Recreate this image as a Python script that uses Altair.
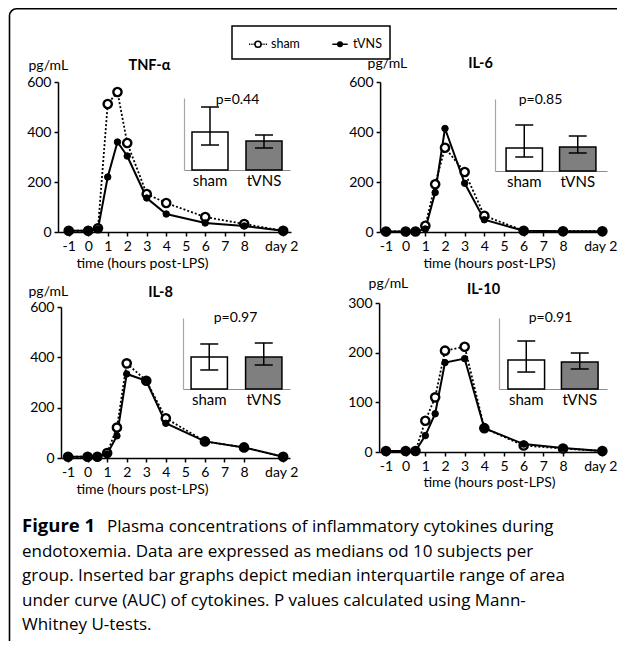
import altair as alt
import pandas as pd

# ---------------- data ----------------
hours = [-1, 0, 0.5, 1, 1.5, 2, 3, 4, 6, 8, 10]          # 10 = "day 2"
hour_ticks = [-1, 0, 1, 2, 3, 4, 5, 6, 7, 8, 10]
groups = ["sham", "tVNS"]

panel_names = ["TNF-α", "IL-6", "IL-8", "IL-10"]
y_max = [600, 600, 600, 300]
y_ticks = [[0, 200, 400, 600], [0, 200, 400, 600], [0, 200, 400, 600], [0, 100, 200, 300]]

tnf_sham = [5, 5, 15, 512, 560, 356, 152, 116, 60, 32, 5]
tnf_tvns = [5, 5, 12, 220, 360, 304, 136, 72, 36, 24, 5]
il6_sham = [2, 2, 2, 25, 191, 337, 240, 65, 5, 3, 3]
il6_tvns = [2, 2, 2, 12, 158, 414, 195, 49, 5, 3, 3]
il8_sham = [5, 5, 5, 20, 121, 376, 307, 158, 66, 42, 5]
il8_tvns = [5, 5, 5, 16, 88, 334, 307, 138, 66, 42, 5]
il10_sham = [2, 2, 2, 63, 110, 204, 212, 48, 13, 7, 2]
il10_tvns = [2, 2, 2, 33, 77, 180, 188, 48, 16, 8, 2]

sham_series = [tnf_sham, il6_sham, il8_sham, il10_sham]
tvns_series = [tnf_tvns, il6_tvns, il8_tvns, il10_tvns]

p_values = ["p=0.44", "p=0.85", "p=0.97", "p=0.91"]
auc_median_sham = [52.8, 31.9, 45.0, 40.8]
auc_q1_sham = [34.7, 19.4, 26.8, 23.9]
auc_q3_sham = [87.5, 63.9, 63.4, 67.6]
auc_median_tvns = [40.3, 33.3, 45.0, 38.0]
auc_q1_tvns = [30.6, 25.0, 33.8, 28.2]
auc_q3_tvns = [48.6, 48.6, 64.8, 50.7]

caption_bold = "Figure 1"
caption_first = "Plasma concentrations of inflammatory cytokines during"
caption_rest = [
    "endotoxemia. Data are expressed as medians od 10 subjects per",
    "group. Inserted bar graphs depict median interquartile range of area",
    "under curve (AUC) of cytokines. P values calculated using Mann-",
    "Whitney U-tests.",
]

# ---------------- layout (pixels inside the plot area) ----------------
W, H = 609, 633
FONT = "Lato"
CAP_FONT = "Open Sans"

layouts = [
    dict(xdom=[-1.55, 10.4], xrng=[50, 283], yrng=[224, 74], xaxis_y=224, yaxis_x=50,
         ylab=(-30, 57), name=(141, 57), xt=(134, 31),
         in_x=[176, 282], pi=0.333, po=0.148, in_y=[162, 90], p=(53, 91)),
    dict(xdom=[-1.3, 10.15], xrng=[372.1, 597.3], yrng=[224, 74], xaxis_y=224, yaxis_x=372.1,
         ylab=(-13, 55), name=(472, 55), xt=(481, 31),
         in_x=[487, 599], pi=0.32, po=0.207, in_y=[163, 91], p=(45, 91)),
    dict(xdom=[-1.36, 10.35], xrng=[53, 282], yrng=[450, 299], xaxis_y=450, yaxis_x=53,
         ylab=(-33, 283), name=(152, 284), xt=(134, 31),
         in_x=[175, 282], pi=0.333, po=0.148, in_y=[381, 310], p=(52, 309)),
    dict(xdom=[-1.35, 10.15], xrng=[371.1, 597.3], yrng=[444, 295], xaxis_y=444, yaxis_x=371.1,
         ylab=(-11, 275), name=(475, 281), xt=(481, 30),
         in_x=[491, 599], pi=0.315, po=0.167, in_y=[381, 310], p=(51, 309)),
]


def main_axis(**kw):
    d = dict(domainColor="black", domainWidth=1.5, tickColor="black", tickWidth=1.5, tickSize=4,
             labelFont=FONT, labelFontSize=14, labelColor="black", grid=False, labelPadding=3,
             labelFlush=False, labelOverlap=False, titleFont=FONT, titleFontSize=14,
             titleFontWeight="normal", titleColor="black")
    d.update(kw)
    return alt.Axis(**d)


children = []

for i in range(4):
    L = layouts[i]
    df = pd.DataFrame({
        "hour": hours + hours,
        "value": sham_series[i] + tvns_series[i],
        "group": ["sham"] * len(hours) + ["tVNS"] * len(hours),
    })
    xs = alt.Scale(domain=L["xdom"], range=L["xrng"], nice=False, zero=False)
    ys = alt.Scale(domain=[0, y_max[i]], range=L["yrng"], nice=False, zero=False)
    base = alt.Chart(df)

    xaxis = main_axis(orient="bottom", offset=L["xaxis_y"] - H, values=hour_ticks,
                      labelExpr="datum.value == 10 ? 'day 2' : '' + datum.value",
                      labelOffset=alt.condition("datum.value == 10", alt.value(-2), alt.value(0)),
                      title="time (hours post-LPS)", titleX=L["xt"][0], titleY=L["xt"][1],
                      titleAlign="center", titleBaseline="middle")
    yaxis = main_axis(orient="left", offset=-L["yaxis_x"], values=y_ticks[i], title="pg/mL",
                      titleAngle=0, titleAlign="left", titleBaseline="middle",
                      titleX=L["ylab"][0], titleY=L["ylab"][1])
    name_axis = alt.Axis(orient="top", domain=False, ticks=False, labels=False, grid=False,
                         title=panel_names[i], titleFont=FONT, titleFontSize=14.5,
                         titleFontWeight="bold", titleColor="black", titleAlign="center",
                         titleBaseline="middle", titleX=L["name"][0], titleY=L["name"][1])

    sham_line = base.transform_filter("datum.group == 'sham'").mark_line(
        color="black", strokeWidth=1.8, strokeDash=[2, 2]).encode(
        x=alt.X("hour:Q", scale=xs, axis=xaxis),
        y=alt.Y("value:Q", scale=ys, axis=yaxis))
    tvns_line = base.transform_filter("datum.group == 'tVNS'").mark_line(
        color="black", strokeWidth=2).encode(
        x=alt.X("hour:Q", scale=xs, axis=name_axis),
        y=alt.Y("value:Q", scale=ys, axis=None))
    sham_pts = base.transform_filter("datum.group == 'sham'").mark_point(
        shape="circle", filled=True, fill="white", stroke="black", strokeWidth=2.4, size=68,
        opacity=1).encode(
        x=alt.X("hour:Q", scale=xs, axis=None),
        y=alt.Y("value:Q", scale=ys, axis=None))
    tvns_pts = base.transform_filter("datum.group == 'tVNS'").mark_point(
        shape="circle", filled=True, fill="black", stroke="black", strokeWidth=1, size=42,
        opacity=1).encode(
        x=alt.X("hour:Q", scale=xs, axis=None),
        y=alt.Y("value:Q", scale=ys, axis=None))

    # ---- inset AUC bar chart ----
    auc = pd.DataFrame({
        "group": groups,
        "median": [auc_median_sham[i], auc_median_tvns[i]],
        "q1": [auc_q1_sham[i], auc_q1_tvns[i]],
        "q3": [auc_q3_sham[i], auc_q3_tvns[i]],
    })
    xs_in = alt.Scale(domain=groups, range=L["in_x"], paddingInner=L["pi"], paddingOuter=L["po"])
    ys_in = alt.Scale(domain=[0, 100], range=L["in_y"], nice=False, zero=True)
    bars = alt.Chart(auc).mark_bar(stroke="black", strokeWidth=1.5, opacity=1).encode(
        x=alt.X("group:N", scale=xs_in, sort=groups,
                axis=alt.Axis(orient="bottom", offset=L["in_y"][0] - H, ticks=False,
                              domainColor="#8c8c8c", domainWidth=1.2, labelAngle=0,
                              labelFont=FONT, labelFontSize=15, labelColor="black",
                              labelPadding=3, title=None, grid=False)),
        y=alt.Y("median:Q", scale=ys_in,
                axis=alt.Axis(orient="left", offset=-L["in_x"][0], labels=False, ticks=False,
                              grid=False, domainColor="#a6a6a6", domainWidth=1.2,
                              title=p_values[i], titleAngle=0, titleFont=FONT, titleFontSize=14,
                              titleFontWeight="normal", titleColor="black", titleAlign="center",
                              titleBaseline="middle", titleX=L["p"][0], titleY=L["p"][1])),
        fill=alt.Fill("group:N", scale=alt.Scale(domain=groups, range=["white", "#7f7f7f"]),
                      legend=None))
    err = alt.Chart(auc).mark_rule(color="black", strokeWidth=1.5).encode(
        x=alt.X("group:N", scale=xs_in, sort=groups, axis=None),
        y=alt.Y("q1:Q", scale=ys_in, axis=None),
        y2="q3:Q")
    caps = alt.Chart(auc).transform_fold(["q1", "q3"], as_=["which", "val"]).mark_tick(
        color="black", thickness=1.5, size=18, opacity=1, orient="horizontal").encode(
        x=alt.X("group:N", scale=xs_in, sort=groups, axis=None),
        y=alt.Y("val:Q", scale=ys_in, axis=None))

    children += [sham_line, tvns_line, sham_pts, tvns_pts, bars, err, caps]

# ---------------- legend ----------------
sham_symbol = ("M-1,0h0.14M-0.74,0h0.14M-0.5,0h0.1"
               "M-0.34,0a0.34,0.34 0 1,0 0.68,0a0.34,0.34 0 1,0 -0.68,0"
               "M0.4,0h0.1M0.6,0h0.14M0.86,0h0.14")
tvns_symbol = ("M-0.85,0H0.85"
               "M-0.25,0a0.25,0.25 0 1,0 0.5,0a0.25,0.25 0 1,0 -0.5,0")
legend_spec = alt.Legend(
    title=None, orient="none", legendX=224, legendY=18, direction="horizontal",
    strokeColor="black", padding=8, symbolSize=324, symbolStrokeWidth=1.6,
    symbolStrokeColor="black", labelFont=FONT, labelFontSize=12.5, labelColor="black",
    labelOffset=3, columnPadding=22, symbolOffset=8,
    labelExpr="datum.label == 'tVNS' ? 'tVNS\u00a0\u00a0\u00a0\u00a0\u00a0\u00a0\u00a0\u00a0\u00a0\u00a0' : datum.label")
legend_layer = alt.Chart(pd.DataFrame({"group": groups})).mark_point(
    strokeWidth=1.6, size=324, opacity=1).encode(
    x=alt.value(-200), y=alt.value(-200),
    fill=alt.Fill("group:N", scale=alt.Scale(domain=groups, range=["white", "black"]),
                  legend=legend_spec),
    stroke=alt.Stroke("group:N", scale=alt.Scale(domain=groups, range=["black", "black"]),
                      legend=legend_spec),
    shape=alt.Shape("group:N", scale=alt.Scale(domain=groups, range=[sham_symbol, tvns_symbol]),
                    legend=legend_spec))
children.append(legend_layer)

# ---------------- frame ----------------
frame = alt.Chart(pd.DataFrame({"k": [0]})).mark_rect(
    fill="transparent", stroke="black", strokeWidth=1.6, cornerRadius=7, clip=True).encode(
    x=alt.value(1.5), x2=alt.value(W + 60), y=alt.value(0.8), y2=alt.value(H + 60))
children.append(frame)

# ---------------- caption ----------------
cap_scale = alt.Scale(domain=[0, 4], range=[524, 622], nice=False, zero=False)
CAP_L = 14


def cap_text(lines, texts, x, weight="normal", size=17):
    return alt.Chart(pd.DataFrame({"line": lines, "text": texts})).mark_text(
        font=CAP_FONT, fontSize=size, fontWeight=weight, align="left", baseline="alphabetic",
        color="black").encode(x=alt.value(x), y=alt.Y("line:Q", scale=cap_scale, axis=None),
                              text="text:N")


children += [
    cap_text([0], [caption_bold], CAP_L, weight="bold", size=18.5),
    cap_text([0], [caption_first], 99),
    cap_text([1, 2, 3, 4], caption_rest, CAP_L),
]

chart = alt.layer(*children).resolve_scale(
    x="independent", y="independent", fill="independent", shape="independent",
    stroke="independent"
).properties(
    width=W, height=H, padding=0, autosize=alt.AutoSizeParams(type="none")
).configure_view(stroke=None).configure_legend(strokeWidth=1.5)

chart.save("out.html", embed_options={"renderer": "svg", "actions": False})
